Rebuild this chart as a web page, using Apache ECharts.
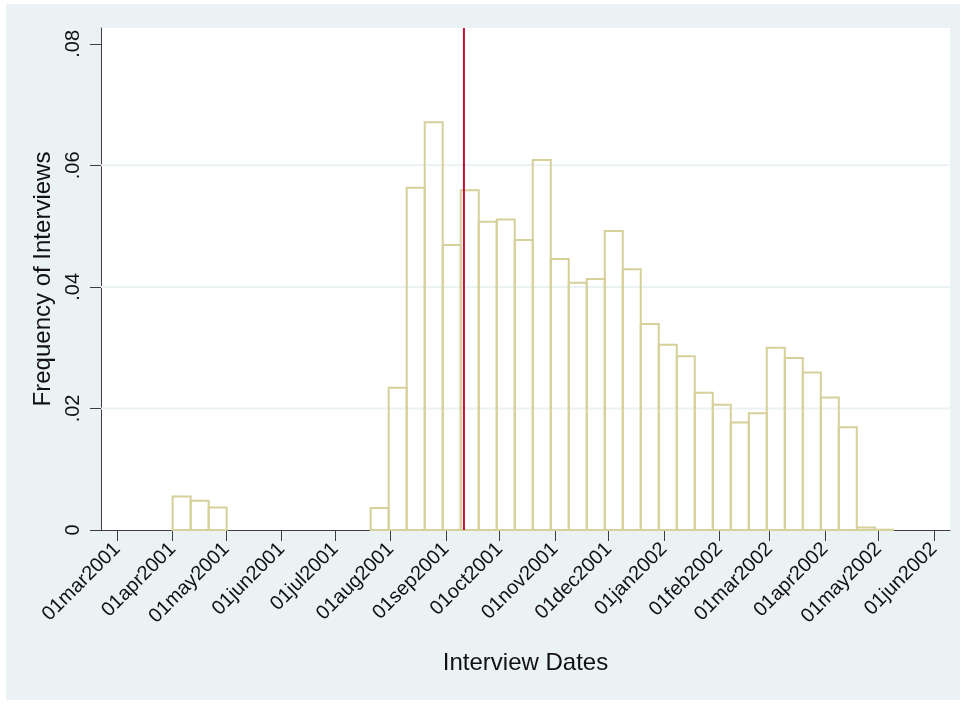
<!DOCTYPE html>
<html><head><meta charset="utf-8">
<script src="https://cdn.jsdelivr.net/npm/echarts@6/dist/echarts.min.js"></script>
<style>html,body{margin:0;padding:0;background:#fff}#c{width:965px;height:707px}</style>
</head><body><div id="c"></div>
<script>
// ---- data ----
const xTickLabels = ['01mar2001','01apr2001','01may2001','01jun2001','01jul2001','01aug2001',
  '01sep2001','01oct2001','01nov2001','01dec2001','01jan2002','01feb2002','01mar2002',
  '01apr2002','01may2002','01jun2002'];
const yTickValues = [0, 0.02, 0.04, 0.06, 0.08];
const yTickLabels = ['0', '.02', '.04', '.06', '.08'];
const binFirstDate = '01apr2001';
const binLastDate = '09may2002';
const binHeights = [0.0055, 0.0048, 0.0037, 0, 0, 0, 0, 0, 0, 0, 0,
  0.0036, 0.0234, 0.0563, 0.0671, 0.0469, 0.0559, 0.0507, 0.0511, 0.0477, 0.0609,
  0.0446, 0.0407, 0.0413, 0.0492, 0.0429, 0.0339, 0.0305, 0.0286, 0.0226, 0.0206,
  0.0177, 0.0192, 0.0300, 0.0283, 0.0259, 0.0218, 0.0169, 0.0004, 0.00005];
const eventDate = '11sep2001';
const xTitle = 'Interview Dates';
const yTitle = 'Frequency of Interviews';

// ---- helpers ----
const MONTHS = ['jan','feb','mar','apr','may','jun','jul','aug','sep','oct','nov','dec'];
function toDay(s) {
  return Date.UTC(+s.slice(5), MONTHS.indexOf(s.slice(2, 5)), +s.slice(0, 2)) / 86400000;
}
const xTickDays = xTickLabels.map(toDay);
const d0 = toDay(binFirstDate), d1 = toDay(binLastDate);
const nBins = binHeights.length;
const bw = (d1 - d0) / nBins;
const binData = binHeights.map((h, i) => [d0 + i * bw, d0 + (i + 1) * bw, h]);
const xMin = xTickDays[0] - 9.1;
const xMax = xTickDays[xTickDays.length - 1] + 9.0;
const yMax = 0.0826;
const gridData = yTickValues.filter(v => v > 0 && v < yTickValues[yTickValues.length - 1]).map(v => [xMin, v]);
const eventDay = toDay(eventDate);

const FONT = "'Liberation Sans', Arial, sans-serif";
const BG = '#EAF2F3';
const AXIS = '#3d3d3d';

const chart = echarts.init(document.getElementById('c'), null, {renderer: 'canvas'});
chart.setOption({
  backgroundColor: '#ffffff',
  animation: false,
  graphic: [{
    type: 'rect', z: -10, silent: true,
    shape: {x: 6, y: 4, width: 954, height: 696},
    style: {fill: BG}
  }, {
    type: 'rect', z: -9, silent: true,
    shape: {x: 101, y: 28, width: 849, height: 502},
    style: {fill: '#ffffff'}
  }],
  grid: {left: 101, right: 15, top: 28, bottom: 177, containLabel: false},
  xAxis: {
    type: 'value', min: xMin, max: xMax,
    name: xTitle, nameLocation: 'middle', nameGap: 121,
    nameTextStyle: {fontFamily: FONT, fontSize: 24, color: '#111'},
    axisLine: {show: true, onZero: false, lineStyle: {color: AXIS, width: 1}},
    axisTick: {show: true, length: 11, customValues: xTickDays, lineStyle: {color: AXIS, width: 1}},
    axisLabel: {
      customValues: xTickDays, rotate: 45, margin: 16,
      fontFamily: FONT, fontSize: 20, color: '#111',
      formatter: v => { const i = xTickDays.findIndex(d => Math.abs(d - v) < 0.01); return i >= 0 ? xTickLabels[i] : ''; }
    },
    splitLine: {show: false}
  },
  yAxis: {
    type: 'value', min: 0, max: yMax,
    name: yTitle, nameLocation: 'middle', nameGap: 39, nameRotate: 90,
    nameTextStyle: {fontFamily: FONT, fontSize: 24, color: '#111'},
    axisLine: {show: true, onZero: false, lineStyle: {color: AXIS, width: 1}},
    axisTick: {show: true, length: 11, customValues: yTickValues, lineStyle: {color: AXIS, width: 1}},
    axisLabel: {
      customValues: yTickValues, rotate: 90, margin: 18,
      fontFamily: FONT, fontSize: 20, color: '#111',
      formatter: v => { const i = yTickValues.findIndex(d => Math.abs(d - v) < 1e-9); return i >= 0 ? yTickLabels[i] : ''; }
    },
    splitLine: {show: false}
  },
  series: [{
    type: 'custom', z: 1, silent: true,
    data: gridData,
    renderItem: (params, api) => {
      const a = api.coord([xMin, api.value(1)]);
      const b = api.coord([xMax, api.value(1)]);
      return {type: 'line', shape: {x1: a[0], y1: a[1], x2: b[0], y2: b[1]}, style: {stroke: BG, lineWidth: 2}};
    }
  }, {
    type: 'custom', z: 2, silent: true,
    data: binData,
    encode: {x: [0, 1], y: 2},
    renderItem: (params, api) => {
      const h = api.value(2);
      if (!(h > 0)) return null;
      const p0 = api.coord([api.value(0), h]);
      const p1 = api.coord([api.value(1), 0]);
      return {type: 'rect', shape: {x: p0[0], y: p0[1], width: p1[0] - p0[0], height: p1[1] - p0[1]},
        style: {fill: 'none', stroke: '#D6D09A', lineWidth: 2}};
    }
  }, {
    type: 'custom', z: 5, silent: true,
    data: [[eventDay, yMax]],
    renderItem: (params, api) => {
      const a = api.coord([api.value(0), yMax]);
      const b = api.coord([api.value(0), 0]);
      return {type: 'line', shape: {x1: a[0], y1: a[1], x2: b[0], y2: b[1]}, style: {stroke: '#C50D36', lineWidth: 2}};
    }
  }]
});
</script></body></html>
